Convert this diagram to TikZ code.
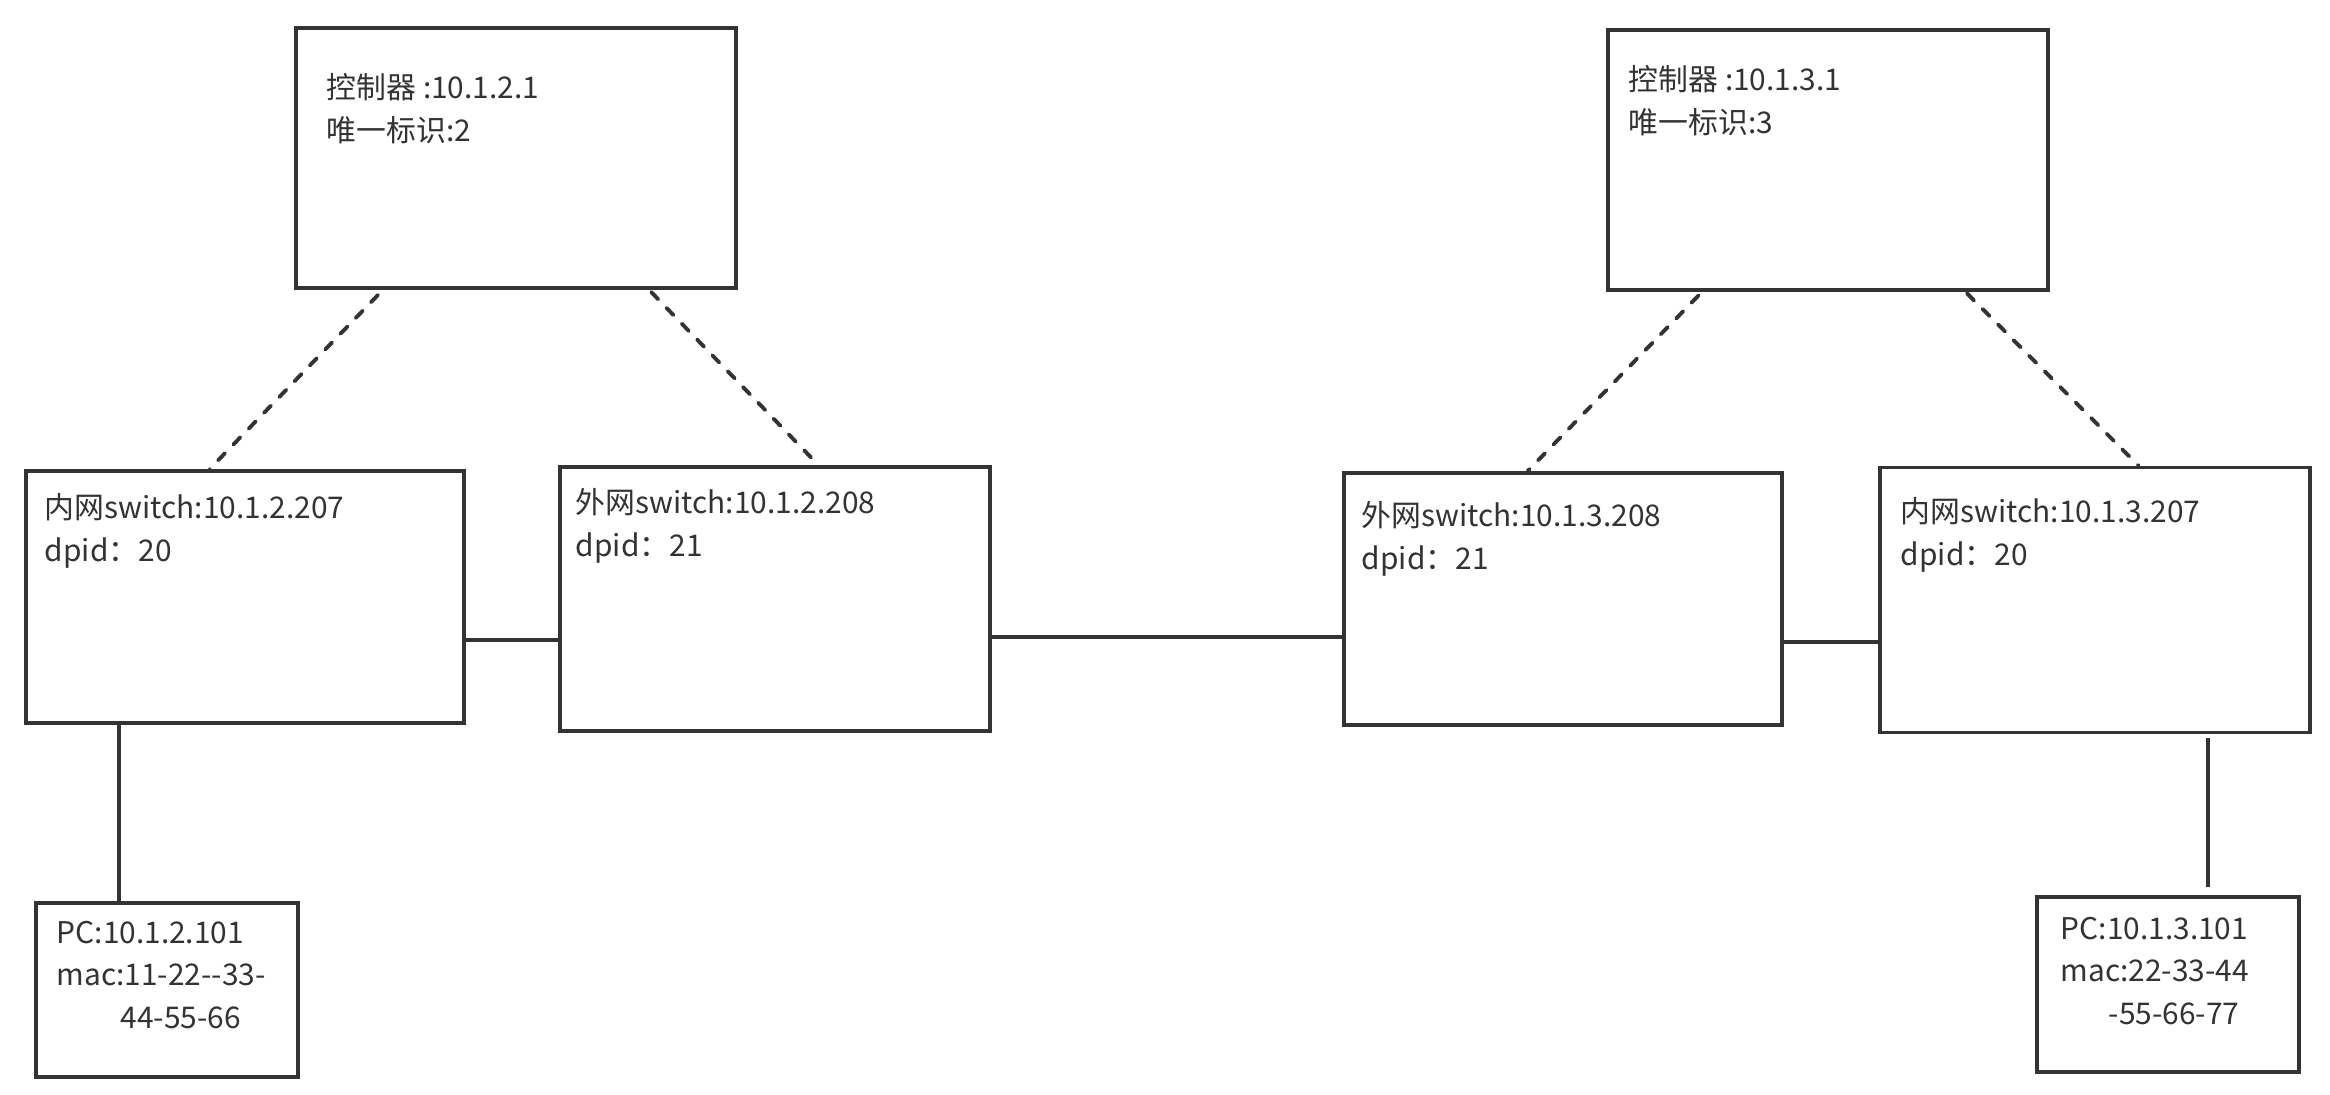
\documentclass[tikz,border=0pt]{standalone}
\usepackage{fontspec}
\setmainfont{Noto Sans CJK SC}
\usepackage{tikz}
\usetikzlibrary{positioning,calc}
\definecolor{linegray}{rgb}{0.20,0.20,0.20}
\definecolor{textgray}{rgb}{0.20,0.20,0.20}

\begin{document}
\begin{tikzpicture}[
    every node/.style={font=\fontsize{8.5pt}{12.2pt}\selectfont,text=textgray},
    box/.style={draw=linegray,line width=1.1pt,inner sep=0pt},
    tag/.style={inner sep=0pt,align=left},
    link/.style={draw=linegray,line width=1.1pt},
    ctl/.style={draw=linegray,line width=1.1pt,line cap=round,
                dash pattern=on 0.1cm off 0.12cm}]
  \useasboundingbox (0,0) rectangle (23.3,-10.95);
  % controllers
  \node[box,minimum width=4.40cm,minimum height=2.60cm] (ctrlA) at (5.16,-1.58) {};
  \node[box,minimum width=4.40cm,minimum height=2.60cm] (ctrlB) at (18.28,-1.60) {};
  % switches
  \node[box,minimum width=4.38cm,minimum height=2.52cm] (swA) at (2.45,-5.97) {};
  \node[box,minimum width=4.30cm,minimum height=2.64cm] (swB) at (7.75,-5.99) {};
  \node[box,minimum width=4.38cm,minimum height=2.52cm] (swC) at (15.63,-5.99) {};
  \node[box,minimum width=4.30cm,minimum height=2.65cm] (swD) at (20.95,-6.00) {};
  % hosts
  \node[box,minimum width=2.62cm,minimum height=1.74cm] (pcA) at (1.67,-9.90) {};
  \node[box,minimum width=2.62cm,minimum height=1.75cm] (pcB) at (21.68,-9.845) {};

  \node[tag,below right=4.7mm and 3.2mm of ctrlA.north west] (ctrlA-txt)
       {控制器 :10.1.2.1\\唯一标识:2};
  \node[tag,below right=3.7mm and 2.2mm of ctrlB.north west] (ctrlB-txt)
       {控制器 :10.1.3.1\\唯一标识:3};
  \node[tag,below right=2.4mm and 2.0mm of swA.north west] (swA-txt)
       {内网switch:10.1.2.207\\dpid：20};
  \node[tag,below right=2.3mm and 1.7mm of swB.north west] (swB-txt)
       {外网switch:10.1.2.208\\dpid：21};
  \node[tag,below right=3.0mm and 1.9mm of swC.north west] (swC-txt)
       {外网switch:10.1.3.208\\dpid：21};
  \node[tag,below right=3.1mm and 2.2mm of swD.north west] (swD-txt)
       {内网switch:10.1.3.207\\dpid：20};
  \node[tag,below right=1.9mm and 2.2mm of pcA.north west] (pcA-txt)
       {PC:10.1.2.101\\mac:11-22-{}-33-\\\hspace*{6.4mm}44-55-66};
  \node[tag,below right=2.1mm and 2.5mm of pcB.north west] (pcB-txt)
       {PC:10.1.3.101\\mac:22-33-44\\\hspace*{4.8mm}-55-66-77};

  % control channels
  \draw[ctl,shorten <=0.07cm] ($(ctrlA.south west)!0.2!(ctrlA.south east)$) -- ($(swA.north west)!0.42!(swA.north east)$);
  \draw[ctl,shorten <=0.03cm] ($(ctrlA.south west)!0.8!(ctrlA.south east)$) -- ($(swB.north west)!0.6!(swB.north east)$);
  \draw[ctl,shorten <=0.05cm] ($(ctrlB.south west)!0.216!(ctrlB.south east)$) -- ($(swC.north west)!0.42!(swC.north east)$);
  \draw[ctl,shorten <=0.02cm] ($(ctrlB.south west)!0.81!(ctrlB.south east)$) -- ($(swD.north west)!0.6!(swD.north east)$);

  % data links
  \draw[link] (swA.-11) -- (swA.-11 -| swB.west);
  \draw[link] (swB.-10) -- (swB.-10 -| swC.west);
  \draw[link] (swC.-11) -- (swC.-11 -| swD.west);
  \draw[link] ($(pcA.north west)!0.32!(pcA.north east)$) coordinate (pa) -- (pa |- swA.south);
  \draw[link,shorten <=0.08cm,shorten >=0.04cm] ($(pcB.north west)!0.65!(pcB.north east)$) coordinate (pb) -- (pb |- swD.south);
\end{tikzpicture}
\end{document}
